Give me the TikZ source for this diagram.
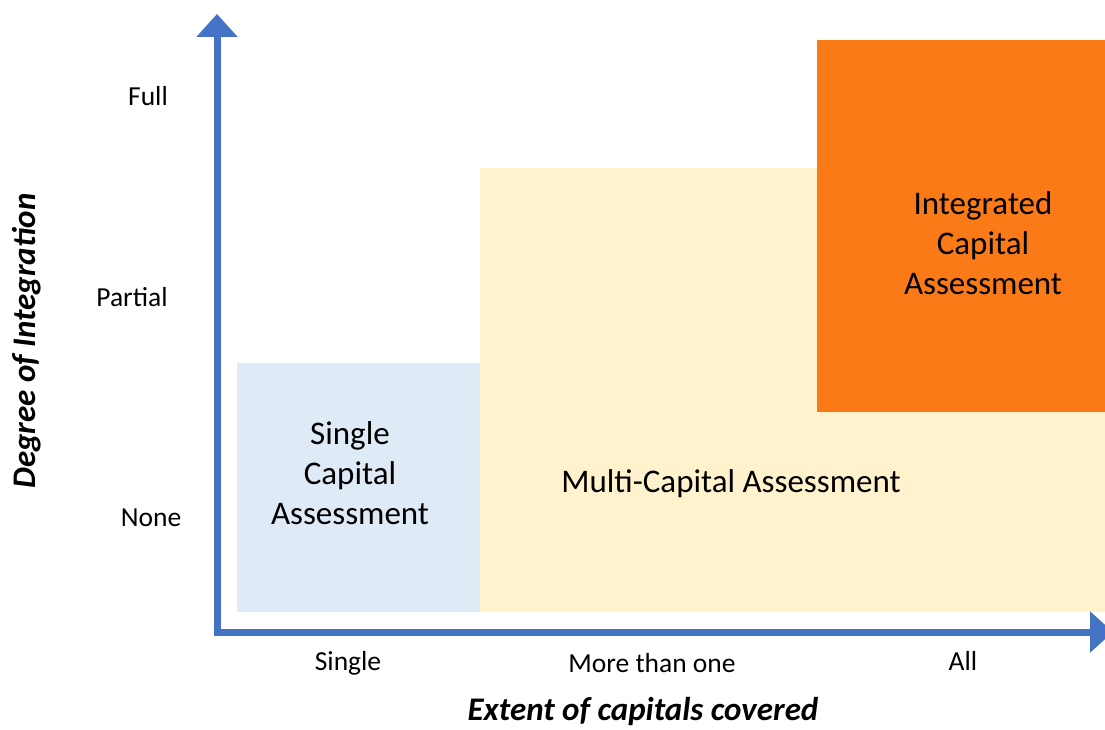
\documentclass[tikz,border=0pt]{standalone}
\usepackage{fontspec}
\setmainfont{Carlito}
\usetikzlibrary{arrows.meta}
\definecolor{axisblue}{HTML}{4472C4}
\definecolor{lightblue}{HTML}{DEEBF7}
\definecolor{lightyellow}{HTML}{FFF2CC}
\definecolor{deeporange}{HTML}{FA7A17}

\begin{document}
\begin{tikzpicture}[x=1pt, y=-1pt]
\tikzstyle{axis} = [draw = axisblue, line width = 7pt, -{Triangle[width=40pt, length=23pt]}]
\tikzstyle{tick} = [inner sep = 0pt, font = \fontsize{27.5}{33}\selectfont]
\tikzstyle{boxtext} = [inner sep = 0pt, align = center, font = \fontsize{33}{40}\selectfont]
\tikzstyle{title} = [inner sep = 0pt, font = \fontsize{33}{38}\selectfont\bfseries\itshape]
\useasboundingbox (0, 0) rectangle (1105, 730);
% the three areas
\fill[lightyellow] (480, 168) rectangle (1105, 612);
\fill[lightblue] (237, 363) rectangle (480, 612);
\fill[deeporange] (817, 40) rectangle (1105, 412);
\node[boxtext] (single) at (350, 473) {Single\\Capital\\Assessment};
\node[boxtext] (multi) at (731, 484) {Multi-Capital Assessment};
\node[boxtext] (integ) at (983, 243) {Integrated\\Capital\\Assessment};
% axes
\coordinate (O) at (217, 632);
\coordinate (ytop) at (217, 14);
\coordinate (xend) at (1113, 632);
\draw[axis] ([yshift=-3.5pt]O) -- (ytop);
\draw[axis] ([xshift=-3.5pt]O) -- (xend);
\node[tick] (full) at (148, 96) {Full};
\node[tick] (partial) at (132, 297) {Partial};
\node[tick] (none) at (151, 518) {None};
\node[tick] (xsingle) at (348, 663) {Single};
\node[tick] (xmore) at (652, 663) {More than one};
\node[tick] (xall) at (963, 661) {All};
\node[title, rotate = 90] (ylab) at (27, 341) {Degree of Integration};
\node[title] (xlab) at (643, 712) {Extent of capitals covered};
\end{tikzpicture}
\end{document}
